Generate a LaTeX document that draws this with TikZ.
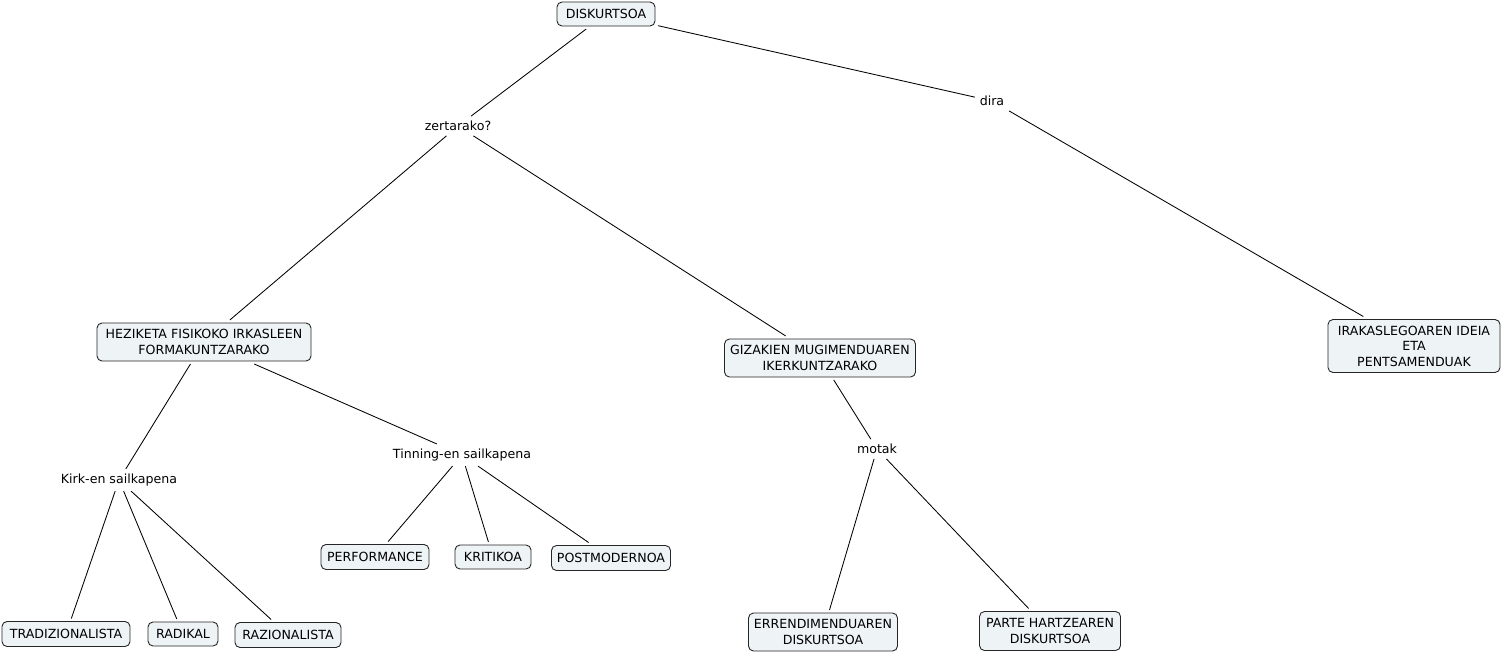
\documentclass[tikz,border=0pt]{standalone}
\usepackage{fontspec}
\setmainfont{DejaVu Sans}
\begin{document}
\begin{tikzpicture}[x=1pt,y=-1pt,
  box/.style={draw=black!85, fill=boxfill, rounded corners=5pt, line width=0.9pt,
    align=center, inner sep=2pt, outer sep=3pt, font=\fontsize{12.6}{15.5}\selectfont},
  lbl/.style={inner sep=4pt, outer sep=1pt, font=\fontsize{12.6}{15.5}\selectfont},
  conn/.style={line width=0.85pt, black}]
\definecolor{boxfill}{RGB}{238,243,245}
\useasboundingbox (0,0) rectangle (1502,654);
% boxes
\node[box, minimum width=98pt, minimum height=24pt] (disk) at (606,14) {DISKURTSOA};
\node[box, minimum width=214pt, minimum height=38pt] (hez) at (204,342) {HEZIKETA FISIKOKO IRKASLEEN\\FORMAKUNTZARAKO};
\node[box, minimum width=191pt, minimum height=38pt] (giz) at (820,358) {GIZAKIEN MUGIMENDUAREN\\IKERKUNTZARAKO};
\node[box, minimum width=172pt, minimum height=53pt] (ira) at (1414,346) {IRAKASLEGOAREN IDEIA\\ETA\\PENTSAMENDUAK};
\node[box, minimum width=128pt, minimum height=25pt] (tra) at (66,634) {TRADIZIONALISTA};
\node[box, minimum width=70pt, minimum height=24pt] (rad) at (183,634) {RADIKAL};
\node[box, minimum width=106pt, minimum height=25pt] (raz) at (288,635) {RAZIONALISTA};
\node[box, minimum width=108pt, minimum height=25pt] (per) at (375,557) {PERFORMANCE};
\node[box, minimum width=76pt, minimum height=24pt] (kri) at (493,557) {KRITIKOA};
\node[box, minimum width=119pt, minimum height=25pt] (pos) at (611,558) {POSTMODERNOA};
\node[box, minimum width=149pt, minimum height=38pt] (err) at (823,632) {ERRENDIMENDUAREN\\DISKURTSOA};
\node[box, minimum width=141pt, minimum height=39pt] (par) at (1050,631) {PARTE HARTZEAREN\\DISKURTSOA};
% labels
\node[lbl] (zer) at (458,126) {zertarako?};
\node[lbl] (dira) at (992,101) {dira};
\node[lbl] (kirk) at (119,480) {Kirk-en sailkapena};
\node[lbl] (tin) at (462,455) {Tinning-en sailkapena};
\node[lbl] (mot) at (877,449) {motak};
% connectors
\draw[conn] (disk) -- (zer);
\draw[conn] (zer) -- (hez);
\draw[conn] (zer) -- (giz);
\draw[conn] (disk) -- (dira);
\draw[conn] (dira) -- (ira);
\draw[conn] (hez) -- (kirk);
\draw[conn] (hez) -- (tin);
\draw[conn] (kirk) -- (tra);
\draw[conn] (kirk) -- (rad);
\draw[conn] (kirk) -- (raz);
\draw[conn] (tin) -- (per);
\draw[conn] (tin) -- (kri);
\draw[conn] (tin) -- (pos);
\draw[conn] (giz) -- (mot);
\draw[conn] (mot) -- (err);
\draw[conn] (mot) -- (par);
\end{tikzpicture}
\end{document}
